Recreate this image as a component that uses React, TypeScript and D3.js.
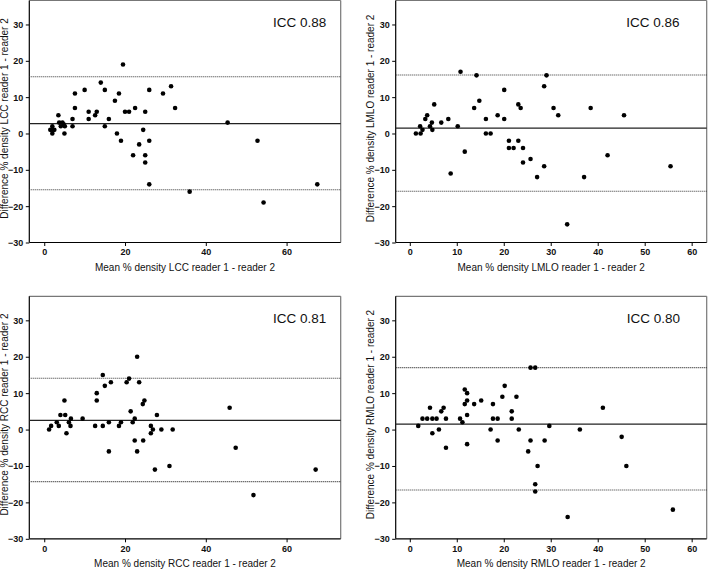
import { useEffect, useRef } from 'react';
import * as d3 from 'd3';

// Bland-Altman data: mean % density (x) vs difference reader 1 - reader 2 (y)
const LCC_MEAN = [1.5, 2, 2, 2, 2.5, 3.5, 3.7, 4.1, 4.5, 4.8, 5, 5.1, 7, 7, 7.6, 7.6, 10, 11, 11, 12.6, 13, 14, 15, 15, 16, 17.5, 18, 18.5, 19, 19.5, 20, 21, 22, 22.5, 23.5, 24.5, 25, 25, 25, 26, 26, 26, 29.4, 31.4, 32.4, 36, 45.4, 52.8, 54.3, 67.6];
const LCC_DIFF = [1, 0, 1, 2, 1, 5, 3, 2, 3, 2.5, 0, 2, 4, 2, 11, 7, 12, 6, 4, 5, 6, 14, 12, 2, 4, 9, 0, 11, -2, 19, 6, 6, -6, 7, -3, 1, 6, -6, -8, 12, -2, -14, 11, 13, 7, -16, 3, -2, -19, -14];

const LMLO_MEAN = [1.3, 2.2, 2.3, 2.7, 3.3, 3.7, 4.3, 4.7, 4.8, 5.2, 6.7, 8.2, 8.7, 10.2, 10.8, 11.7, 13.7, 14.2, 14.8, 16.2, 16.2, 17.2, 18.7, 20.1, 20.1, 21.1, 21.1, 22.1, 23.1, 23.1, 23.6, 24.1, 24.1, 25.7, 27.1, 28.6, 28.6, 29.1, 30.6, 31.6, 33.5, 37.1, 38.5, 42.1, 45.6, 55.5];
const LMLO_DIFF = [0, 2, 0, 1, 4, 5, 2, 3, 1, 8, 3, 4, -11, 2, 17, -5, 7, 16, 9, 4, 0, 0, 5, 12, 4, -2, -4, -4, -2, 8, 7, -4, -8, -7, -12, 13, -9, 16, 7, 5, -25, -12, 7, -6, 5, -9];

const RCC_MEAN = [1.2, 1.7, 3.1, 3.6, 4, 5, 5.2, 5.5, 6.1, 6.6, 6.5, 9.5, 12.6, 13, 13, 14.5, 14.5, 15, 16, 16, 16.5, 18.5, 19, 20.4, 21, 21.4, 21.9, 22.4, 22.4, 23, 23, 23.5, 24.4, 24.8, 24.5, 26.4, 26.4, 26.9, 27.4, 27.9, 29, 31, 31.8, 45.9, 47.4, 51.8, 67.2];
const RCC_DIFF = [0, 1, 2, 1, 4, 8, 4, -1, 2, 3, 1, 3, 1, 10, 8, 15, 1, 12, 2, -6, 13, 1, 2, 13, 14, 5, 2, 3, -3, 20, -6, 13, 7, 8, -3, 1, -1, 0, -11, 4, 0, -10, 0, 6, -5, -18, -11];

const RMLO_MEAN = [1.8, 2.7, 3.7, 4.3, 4.8, 4.8, 5.7, 6.2, 6.7, 7.2, 7.7, 7.7, 10.7, 11.2, 11.7, 11.7, 12.2, 12.2, 12.2, 12.2, 13.7, 15.2, 17.2, 17.7, 17.7, 18.7, 18.7, 19.7, 20.2, 21.7, 21.7, 22.7, 23.2, 25.2, 25.7, 25.7, 26.7, 26.7, 26.7, 27.2, 28.7, 29.7, 33.6, 36.2, 41.1, 45.1, 46.1, 56];
const RMLO_DIFF = [1, 3, 3, 6, 3, -1, 3, 0, 5, 6, 3, -5, 3, 2, 11, 7, 10, 8, 4, -4, 7, 8, 0, 7, 3, 3, -3, 9, 12, 5, 3, 9, 0, -6, 17, -3, 17, -15, -17, -10, -3, 1, -24, 0, 6, -2, -10, -22];

const VIEWS = ['LCC', 'LMLO', 'RCC', 'RMLO'];
const ICC = ['0.88', '0.86', '0.81', '0.80'];
const BIAS = [2.7, 1.5, 2.5, 1.5];
const UPPER = [15.6, 16.1, 14.1, 17.0];
const LOWER = [-15.5, -15.9, -14.3, -16.6];

const Y_TICKS = [-30, -20, -10, 0, 10, 20, 30];
const X_TICKS_WIDE = [0, 20, 40, 60];
const X_TICKS_NARROW = [0, 10, 20, 30, 40, 50, 60];

const MEANS = [LCC_MEAN, LMLO_MEAN, RCC_MEAN, RMLO_MEAN];
const DIFFS = [LCC_DIFF, LMLO_DIFF, RCC_DIFF, RMLO_DIFF];

// panel frames (px) and x-domains
const FRAMES = [
  { left: 29.3, top: 0.5, width: 311.4, height: 242, xDomain: [-3.7, 73.4], xTicks: X_TICKS_WIDE, iccX: 243.7 },
  { left: 395.7, top: 0.5, width: 311, height: 242, xDomain: [-3.0, 63.2], xTicks: X_TICKS_NARROW, iccX: 230.5 },
  { left: 29.3, top: 296.3, width: 311.4, height: 242.5, xDomain: [-3.7, 73.4], xTicks: X_TICKS_WIDE, iccX: 243.7 },
  { left: 395.7, top: 296.3, width: 311, height: 242.5, xDomain: [-3.0, 63.2], xTicks: X_TICKS_NARROW, iccX: 231 },
];

const FONT = '"Liberation Sans", Arial, sans-serif';

export default function App() {
  const svgRef = useRef<SVGSVGElement>(null);

  useEffect(() => {
    if (!svgRef.current) return;
    const svg = d3.select(svgRef.current);
    svg.selectAll('*').remove();

    FRAMES.forEach((f, i) => {
      const g = svg.append('g').attr('transform', `translate(${f.left},${f.top})`);
      const x = d3.scaleLinear().domain(f.xDomain).range([0, f.width]);
      const y = d3.scaleLinear().domain([-30, 36.6]).range([f.height, 0]);

      // box: top/right grey
      g.append('line').attr('x1', 0).attr('x2', f.width).attr('y1', 0).attr('y2', 0)
        .attr('stroke', '#777').attr('stroke-width', 1.2);
      g.append('line').attr('x1', f.width).attr('x2', f.width).attr('y1', 0).attr('y2', f.height)
        .attr('stroke', '#777').attr('stroke-width', 1.2);

      // axes
      const yAxis = g.append('g').call(
        d3.axisLeft(y).tickValues(Y_TICKS).tickSize(3.5).tickSizeOuter(0).tickPadding(2.5).tickFormat(d3.format('d'))
      );
      const xAxis = g.append('g').attr('transform', `translate(0,${f.height})`).call(
        d3.axisBottom(x).tickValues(f.xTicks).tickSize(3.5).tickSizeOuter(0).tickPadding(3).tickFormat(d3.format('d'))
      );
      [yAxis, xAxis].forEach(a => {
        a.select('.domain').remove();
        a.selectAll('line').attr('stroke', '#000').attr('stroke-width', 1);
        a.selectAll('text').attr('font-family', FONT).attr('font-size', 9)
          .attr('font-weight', 'bold').attr('fill', '#111');
      });
      g.append('line').attr('x1', 0).attr('x2', 0).attr('y1', 0).attr('y2', f.height)
        .attr('stroke', '#000').attr('stroke-width', 1.2);
      g.append('line').attr('x1', 0).attr('x2', f.width).attr('y1', f.height).attr('y2', f.height)
        .attr('stroke', '#000').attr('stroke-width', 1.2);

      // bias and limits of agreement
      g.append('line').attr('x1', 0).attr('x2', f.width)
        .attr('y1', y(BIAS[i])).attr('y2', y(BIAS[i]))
        .attr('stroke', '#222').attr('stroke-width', 1.2);
      [UPPER[i], LOWER[i]].forEach(v => {
        g.append('line').attr('x1', 0).attr('x2', f.width)
          .attr('y1', y(v)).attr('y2', y(v))
          .attr('stroke', '#333').attr('stroke-width', 1.1)
          .attr('stroke-dasharray', '1,1');
      });

      // points
      g.append('g').selectAll('circle')
        .data(d3.zip(MEANS[i], DIFFS[i]))
        .join('circle')
        .attr('cx', d => x(d[0]))
        .attr('cy', d => y(d[1]))
        .attr('r', 2.3)
        .attr('fill', '#000');

      // ICC label
      g.append('text')
        .attr('x', f.iccX).attr('y', y(29.4))
        .attr('font-family', FONT).attr('font-size', 13.5).attr('fill', '#111')
        .text(`ICC ${ICC[i]}`);

      // axis titles
      g.append('text')
        .attr('x', f.width / 2)
        .attr('y', f.height + 28.5)
        .attr('text-anchor', 'middle')
        .attr('font-family', FONT).attr('font-size', 10).attr('fill', '#111')
        .text(`Mean % density ${VIEWS[i]} reader 1 - reader 2`);

      g.append('text')
        .attr('transform', `translate(${-21.5},${f.height / 2 - 3}) rotate(-90)`)
        .attr('text-anchor', 'middle')
        .attr('font-family', FONT).attr('font-size', 10).attr('fill', '#111')
        .text(`Difference % density ${VIEWS[i]} reader 1 - reader 2`);
    });
  }, []);

  return (
    <div style={{ position: 'fixed', left: 0, top: 0, background: '#fff' }}>
      <svg ref={svgRef} width={708} height={569} style={{ display: 'block' }} />
    </div>
  );
}
